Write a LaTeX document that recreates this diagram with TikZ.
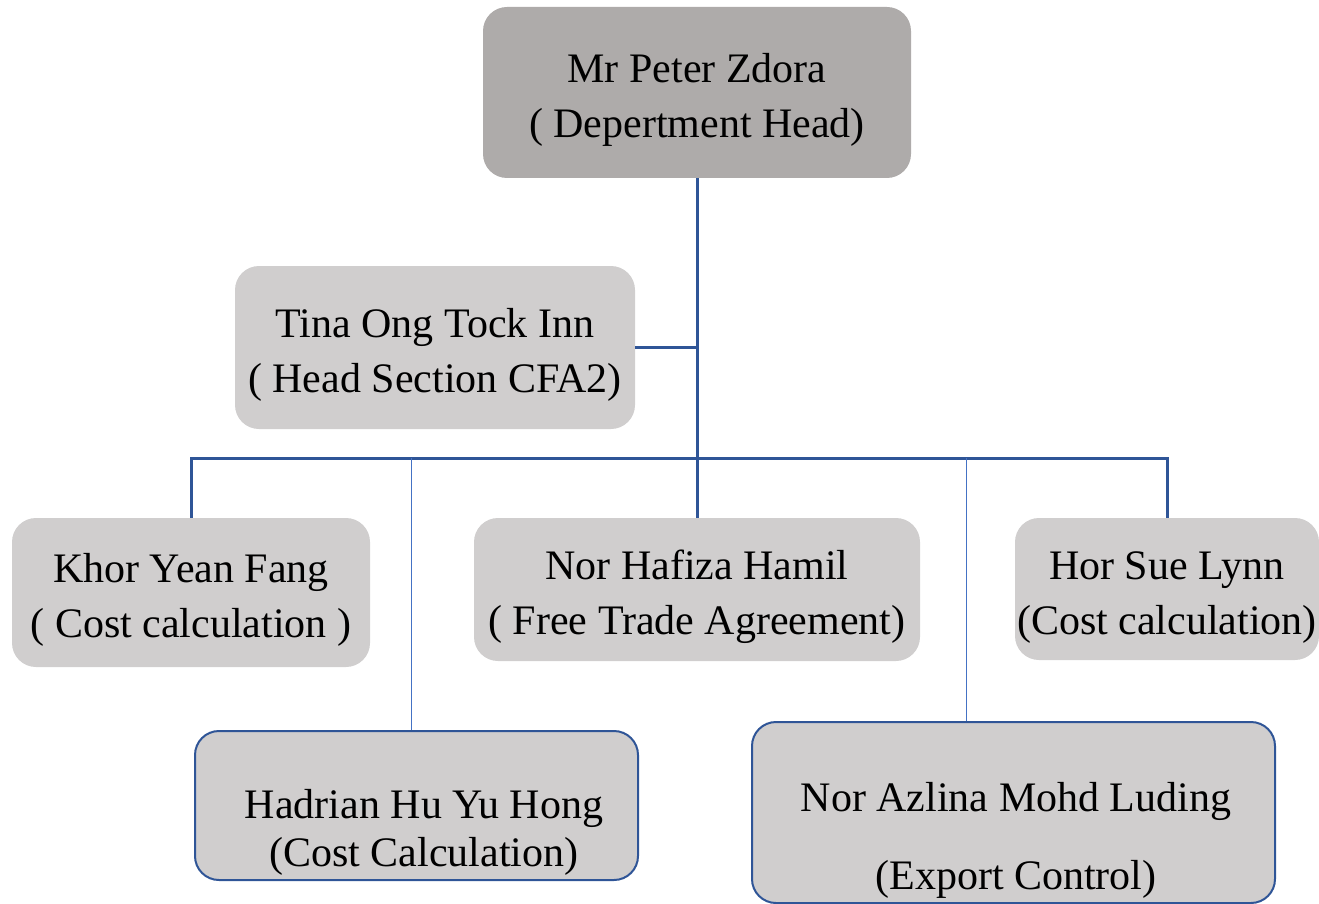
\documentclass[tikz,border=0pt]{standalone}
\usepackage{fontspec}
\setmainfont{Liberation Serif}
\usetikzlibrary{positioning}
\definecolor{headgray}{HTML}{AEABAA}
\definecolor{boxgray}{HTML}{D0CECE}
\definecolor{linkblue}{HTML}{2F5597}
\definecolor{thinblue}{HTML}{4472C4}
\newcommand\cardtop{\rule{0pt}{44pt}}

\begin{document}
\begin{tikzpicture}[x=1pt,y=-1pt,
  font=\fontsize{42}{55}\selectfont,
  card/.style={rounded corners=24pt, fill=boxgray, align=center, inner xsep=1pt, inner ysep=0pt},
  framed/.style={rounded corners=24pt, fill=boxgray, draw=linkblue, line width=2pt},
  link/.style={draw=linkblue, line width=3pt},
  sublink/.style={draw=thinblue, line width=1pt}]
\useasboundingbox (0,0) rectangle (1319,904);
% boxes
\node[card, fill=headgray, minimum width=428, minimum height=171] (head) at (697,92.5) {\cardtop Mr Peter Zdora\\( Depertment Head)};
\node[card, minimum width=400, minimum height=163] (tina) at (435,347.5) {\cardtop Tina Ong Tock Inn\\( Head Section CFA2)};
\node[card, minimum width=358, minimum height=149] (khor) at (191,592.5) {\cardtop Khor Yean Fang\\( Cost calculation )};
\node[card, minimum width=446, minimum height=143] (hafiza) at (697,589.5) {\cardtop Nor Hafiza Hamil\\( Free Trade Agreement)};
\node[card, minimum width=304, minimum height=142] (hor) at (1167,589) {\cardtop Hor Sue Lynn\\(Cost calculation)};
\node[framed, minimum width=443, minimum height=149] (hadrian) at (416.5,805.5) {};
\node[align=center, font=\fontsize{42}{48}\selectfont] (hadrian-txt) at (424,832) {Hadrian Hu Yu Hong\\(Cost Calculation)};
\node[framed, minimum width=523, minimum height=181] (azlina) at (1013.5,812.5) {};
\node[align=center, font=\fontsize{42}{78}\selectfont] (azlina-txt) at (1016,840) {Nor Azlina Mohd Luding\\(Export Control)};
% connectors
\coordinate (bus) at (697,458);
\draw[link] (head.south) -- (bus) -- (hafiza.north);
\draw[link] (tina.east) -- (tina.east -| bus);
\draw[link] (khor.north) |- (bus) -| (hor.north);
\draw[sublink] ([xshift=-5]hadrian.north) -- ([xshift=-5]hadrian.north |- bus);
\draw[sublink] ([xshift=-47]azlina.north) -- ([xshift=-47]azlina.north |- bus);
\end{tikzpicture}
\end{document}
